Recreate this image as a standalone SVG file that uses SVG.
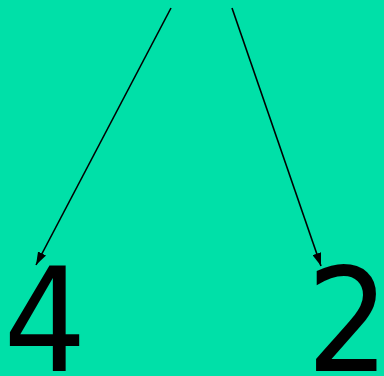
<svg xmlns="http://www.w3.org/2000/svg" width="384" height="376" viewBox="0 0 384 376">
<style>
.lbl{font-family:"DejaVu Sans Condensed","DejaVu Sans",sans-serif;font-stretch:condensed;font-size:145px;fill:#000;text-anchor:middle}
.edge{stroke:#000;stroke-width:1.6;fill:none;marker-end:url(#ah)}
</style>
<defs>
<marker id="ah" viewBox="0 0 13 9" refX="13" refY="4.5" markerWidth="13" markerHeight="9" markerUnits="userSpaceOnUse" orient="auto">
<path d="M0,0L13,4.5L0,9z" fill="#000"/>
</marker>
</defs>
<rect width="384" height="376" fill="#00E0A8"/>
<g id="connectors">
<path class="edge" d="M171,8L36,265"/>
<path class="edge" d="M232,8L321,266"/>
</g>
<g id="node4"><text class="lbl" x="45" y="371">4</text></g>
<g id="node2"><text class="lbl" x="348" y="371">2</text></g>
</svg>
